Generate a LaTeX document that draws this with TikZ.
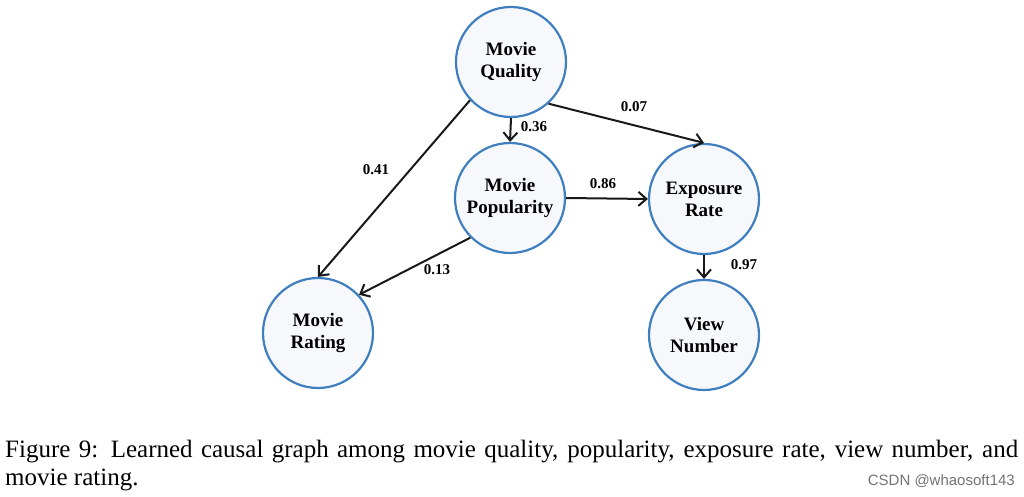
\documentclass[tikz,border=0pt]{standalone}
\usepackage{fontspec}
\setmainfont{Liberation Serif}
\newfontfamily\wmfont{Liberation Sans}
\usetikzlibrary{arrows.meta}
\definecolor{nodeblue}{HTML}{3F7FC0}
\definecolor{nodefill}{HTML}{F6F8FC}
\tikzset{
  var/.style={circle, draw=nodeblue, fill=nodefill, line width=2.2pt, minimum size=110pt, inner sep=0pt, align=center, font=\fontsize{19}{22}\selectfont\bfseries},
  wt/.style={font=\fontsize{15}{17}\selectfont\bfseries, inner sep=0pt},
  edge/.style={draw=black!90, line width=2pt, -{Straight Barb[length=8pt,width=14pt,line width=2pt]}},
}
\begin{document}
\begin{tikzpicture}[x=1pt,y=-1pt]
\useasboundingbox (0,0) rectangle (1024,497);
\node[var] (q) at (511,62) {Movie\\Quality};
\node[var] (p) at (510,198) {Movie\\Popularity};
\node[var] (e) at (704,199) {Exposure\\Rate};
\node[var] (v) at (704,335) {View\\Number};
\node[var] (r) at (318,333) {Movie\\Rating};
\draw[edge] (q.south) -- (p.north);
\draw[edge] (q.312) -- (e.north);
\draw[edge] (q.223) -- (r.north);
\draw[edge] (p.east) -- (e.west);
\draw[edge] (p.225) -- (r.43);
\draw[edge] (e.south) -- (v.north);
\node[wt] (l1) at (534,127) {0.36};
\node[wt] (l2) at (634,107) {0.07};
\node[wt] (l3) at (376,170) {0.41};
\node[wt] (l4) at (603,184) {0.86};
\node[wt] (l5) at (437,270) {0.13};
\node[wt] (l6) at (744,265) {0.97};
\node[anchor=base west, inner sep=0pt, font=\fontsize{25}{28}\selectfont] (c1) at (5,457) {\makebox[1013pt][s]{Figure 9: Learned causal graph among movie quality, popularity, exposure rate, view number, and}};
\node[anchor=base west, inner sep=0pt, font=\fontsize{25}{28}\selectfont] (c2) at (5,485) {movie rating.};
\node[anchor=base east, inner sep=0pt, font=\wmfont\fontsize{15}{17}\selectfont, text=black!55] (wm) at (1015,485) {CSDN @whaosoft143};
\end{tikzpicture}
\end{document}
